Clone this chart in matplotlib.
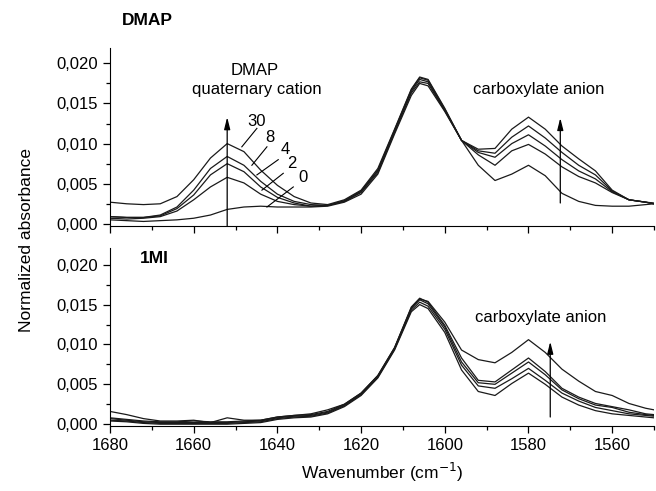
import matplotlib
matplotlib.use("Agg")
import matplotlib.pyplot as plt
from matplotlib.ticker import MultipleLocator, FuncFormatter

plt.rcParams['font.family'] = ['Liberation Sans', 'DejaVu Sans']
plt.rcParams['font.size'] = 12

# wavenumber grid (cm-1)
wn = [1680, 1676, 1672, 1668, 1664, 1660, 1656, 1652, 1648, 1644, 1640, 1636,
      1632, 1628, 1624, 1620, 1616, 1612, 1608, 1606, 1604, 1600, 1596, 1592,
      1588, 1584, 1580, 1576, 1572, 1568, 1564, 1560, 1556, 1552, 1550]

# DMAP panel, labelled by time
dmap_30 = [0.0027, 0.0025, 0.0024, 0.0025, 0.0034, 0.0055, 0.0082, 0.0100, 0.0090, 0.0067, 0.0048, 0.0034,
           0.0026, 0.0024, 0.0030, 0.0042, 0.0069, 0.0118, 0.0168, 0.0183, 0.0180, 0.0144, 0.0104, 0.0093,
           0.0094, 0.0118, 0.0133, 0.0118, 0.0097, 0.0081, 0.0066, 0.0042, 0.0030, 0.0027, 0.0025]
dmap_8 = [0.0009, 0.0008, 0.0008, 0.0011, 0.0021, 0.0042, 0.0069, 0.0084, 0.0073, 0.0053, 0.0037, 0.0028,
          0.0024, 0.0023, 0.0029, 0.0041, 0.0067, 0.0117, 0.0167, 0.0182, 0.0179, 0.0143, 0.0104, 0.0091,
          0.0088, 0.0108, 0.0122, 0.0107, 0.0089, 0.0073, 0.0061, 0.0041, 0.0030, 0.0027, 0.0026]
dmap_4 = [0.0009, 0.0008, 0.0008, 0.0010, 0.0019, 0.0036, 0.0061, 0.0075, 0.0065, 0.0046, 0.0033, 0.0026,
          0.0022, 0.0023, 0.0028, 0.0040, 0.0066, 0.0116, 0.0165, 0.0180, 0.0177, 0.0142, 0.0104, 0.0089,
          0.0083, 0.0100, 0.0111, 0.0097, 0.0080, 0.0066, 0.0056, 0.0040, 0.0030, 0.0027, 0.0025]
dmap_2 = [0.0007, 0.0006, 0.0007, 0.0009, 0.0016, 0.0030, 0.0046, 0.0058, 0.0051, 0.0037, 0.0028, 0.0024,
          0.0022, 0.0023, 0.0028, 0.0039, 0.0064, 0.0114, 0.0163, 0.0177, 0.0175, 0.0141, 0.0104, 0.0086,
          0.0073, 0.0091, 0.0099, 0.0087, 0.0071, 0.0059, 0.0051, 0.0039, 0.0030, 0.0027, 0.0025]
dmap_0 = [0.0005, 0.0004, 0.0003, 0.0004, 0.0005, 0.0007, 0.0011, 0.0018, 0.0021, 0.0022, 0.0021, 0.0021,
          0.0021, 0.0022, 0.0027, 0.0037, 0.0062, 0.0112, 0.0160, 0.0175, 0.0172, 0.0140, 0.0104, 0.0073,
          0.0054, 0.0062, 0.0073, 0.0060, 0.0038, 0.0028, 0.0023, 0.0022, 0.0022, 0.0024, 0.0025]

# 1MI panel
mi_a = [0.0016, 0.0012, 0.0007, 0.0004, 0.0004, 0.0005, 0.0002, 0.0008, 0.0005, 0.0005, 0.0009, 0.0011,
        0.0013, 0.0018, 0.0025, 0.0039, 0.0061, 0.0096, 0.0146, 0.0157, 0.0154, 0.0128, 0.0093, 0.0081,
        0.0077, 0.0090, 0.0106, 0.0090, 0.0069, 0.0054, 0.0041, 0.0036, 0.0026, 0.0020, 0.0018]
mi_b = [0.0008, 0.0006, 0.0004, 0.0003, 0.0003, 0.0004, 0.0003, 0.0003, 0.0004, 0.0005, 0.0009, 0.0011,
        0.0012, 0.0016, 0.0025, 0.0039, 0.0061, 0.0096, 0.0147, 0.0158, 0.0153, 0.0124, 0.0083, 0.0055,
        0.0053, 0.0068, 0.0083, 0.0066, 0.0045, 0.0034, 0.0026, 0.0022, 0.0018, 0.0013, 0.0012]
mi_c = [0.0007, 0.0005, 0.0003, 0.0002, 0.0002, 0.0002, 0.0002, 0.0002, 0.0003, 0.0004, 0.0008, 0.0010,
        0.0011, 0.0015, 0.0024, 0.0038, 0.0060, 0.0095, 0.0145, 0.0156, 0.0151, 0.0122, 0.0078, 0.0052,
        0.0050, 0.0064, 0.0078, 0.0062, 0.0043, 0.0032, 0.0024, 0.0021, 0.0015, 0.0012, 0.0011]
mi_d = [0.0005, 0.0004, 0.0002, 0.0001, 0.0001, 0.0001, 0.0001, 0.0001, 0.0002, 0.0003, 0.0007, 0.0009,
        0.0010, 0.0014, 0.0023, 0.0037, 0.0059, 0.0094, 0.0143, 0.0153, 0.0148, 0.0119, 0.0074, 0.0048,
        0.0045, 0.0057, 0.0070, 0.0055, 0.0039, 0.0029, 0.0021, 0.0017, 0.0013, 0.0011, 0.0010]
mi_e = [0.0004, 0.0003, 0.0001, 0.0000, 0.0000, 0.0000, 0.0000, 0.0000, 0.0001, 0.0002, 0.0006, 0.0008,
        0.0009, 0.0013, 0.0022, 0.0036, 0.0058, 0.0093, 0.0141, 0.0150, 0.0145, 0.0115, 0.0068, 0.0041,
        0.0036, 0.0051, 0.0064, 0.0050, 0.0034, 0.0024, 0.0017, 0.0013, 0.0011, 0.0009, 0.0008]

line_color = '#1a1a1a'
comma_fmt = FuncFormatter(lambda v, pos: ('%.3f' % v).replace('.', ','))

fig = plt.figure(figsize=(6.56, 4.91), dpi=100)
ax1 = fig.add_axes([0.1677, 0.540, 0.8293, 0.362])
ax2 = fig.add_axes([0.1677, 0.132, 0.8293, 0.363])

for ax in (ax1, ax2):
    ax.set_xlim(1680, 1550)
    ax.spines['top'].set_visible(False)
    ax.spines['right'].set_visible(False)
    ax.xaxis.set_major_locator(MultipleLocator(20))
    ax.xaxis.set_minor_locator(MultipleLocator(10))
    ax.yaxis.set_major_locator(MultipleLocator(0.005))
    ax.yaxis.set_minor_locator(MultipleLocator(0.0025))
    ax.yaxis.set_major_formatter(comma_fmt)
    ax.tick_params(which='major', direction='out', length=5, width=0.9, labelsize=12)
    ax.tick_params(which='minor', direction='out', length=3, width=0.9)

ax1.set_ylim(-0.00025, 0.0219)
ax2.set_ylim(-0.00025, 0.0221)
ax1.tick_params(axis='x', labelbottom=False)

for ys in (dmap_0, dmap_2, dmap_4, dmap_8, dmap_30):
    ax1.plot(wn, ys, color=line_color, lw=0.9)
for ys in (mi_a, mi_b, mi_c, mi_d, mi_e):
    ax2.plot(wn, ys, color=line_color, lw=0.9)

arrow = dict(arrowstyle='-|>,head_length=0.6,head_width=0.15', color='black', lw=0.9,
             shrinkA=0, shrinkB=0)

# DMAP panel annotations
ax1.annotate('', xy=(1652, 0.0133), xytext=(1652, -0.00025), arrowprops=arrow)
ax1.annotate('', xy=(1572.4, 0.0132), xytext=(1572.4, 0.0026), arrowprops=arrow)
ax1.text(1645.5, 0.0191, 'DMAP', ha='center', va='center', fontsize=12)
ax1.text(1645, 0.0167, 'quaternary cation', ha='center', va='center', fontsize=12)
ax1.text(1577.5, 0.0167, 'carboxylate anion', ha='center', va='center', fontsize=12)
fig.text(0.225, 0.958, 'DMAP', ha='center', va='center', fontsize=12.5, fontweight='bold')

labels = ['30', '8', '4', '2', '0']
label_pos = [(1644.9, 0.0128), (1641.7, 0.0107), (1638.2, 0.0093), (1636.6, 0.0075), (1633.8, 0.0058)]
leaders = [((1648.5, 0.0096), (1644.9, 0.0119)),
           ((1646.1, 0.0073), (1642.5, 0.0096)),
           ((1644.9, 0.0061), (1639.8, 0.0080)),
           ((1643.7, 0.0042), (1638.6, 0.0063)),
           ((1642.5, 0.0021), (1636.2, 0.0046))]
for lab, (lx, ly), (p0, p1) in zip(labels, label_pos, leaders):
    ax1.text(lx, ly, lab, ha='center', va='center', fontsize=12)
    ax1.plot([p0[0], p1[0]], [p0[1], p1[1]], color='black', lw=0.8)

# 1MI panel annotations
ax2.annotate('', xy=(1574.8, 0.01035), xytext=(1574.8, 0.0009), arrowprops=arrow)
ax2.text(1577, 0.0134, 'carboxylate anion', ha='center', va='center', fontsize=12)
ax2.text(1669.5, 0.0208, '1MI', ha='center', va='center', fontsize=12.5, fontweight='bold')

fig.text(0.04, 0.511, 'Normalized absorbance', rotation=90, ha='center', va='center', fontsize=12.5)
fig.text(0.582, 0.037, 'Wavenumber (cm$^{-1}$)', ha='center', va='center', fontsize=12.5)

fig.savefig('out.png', dpi=100)
